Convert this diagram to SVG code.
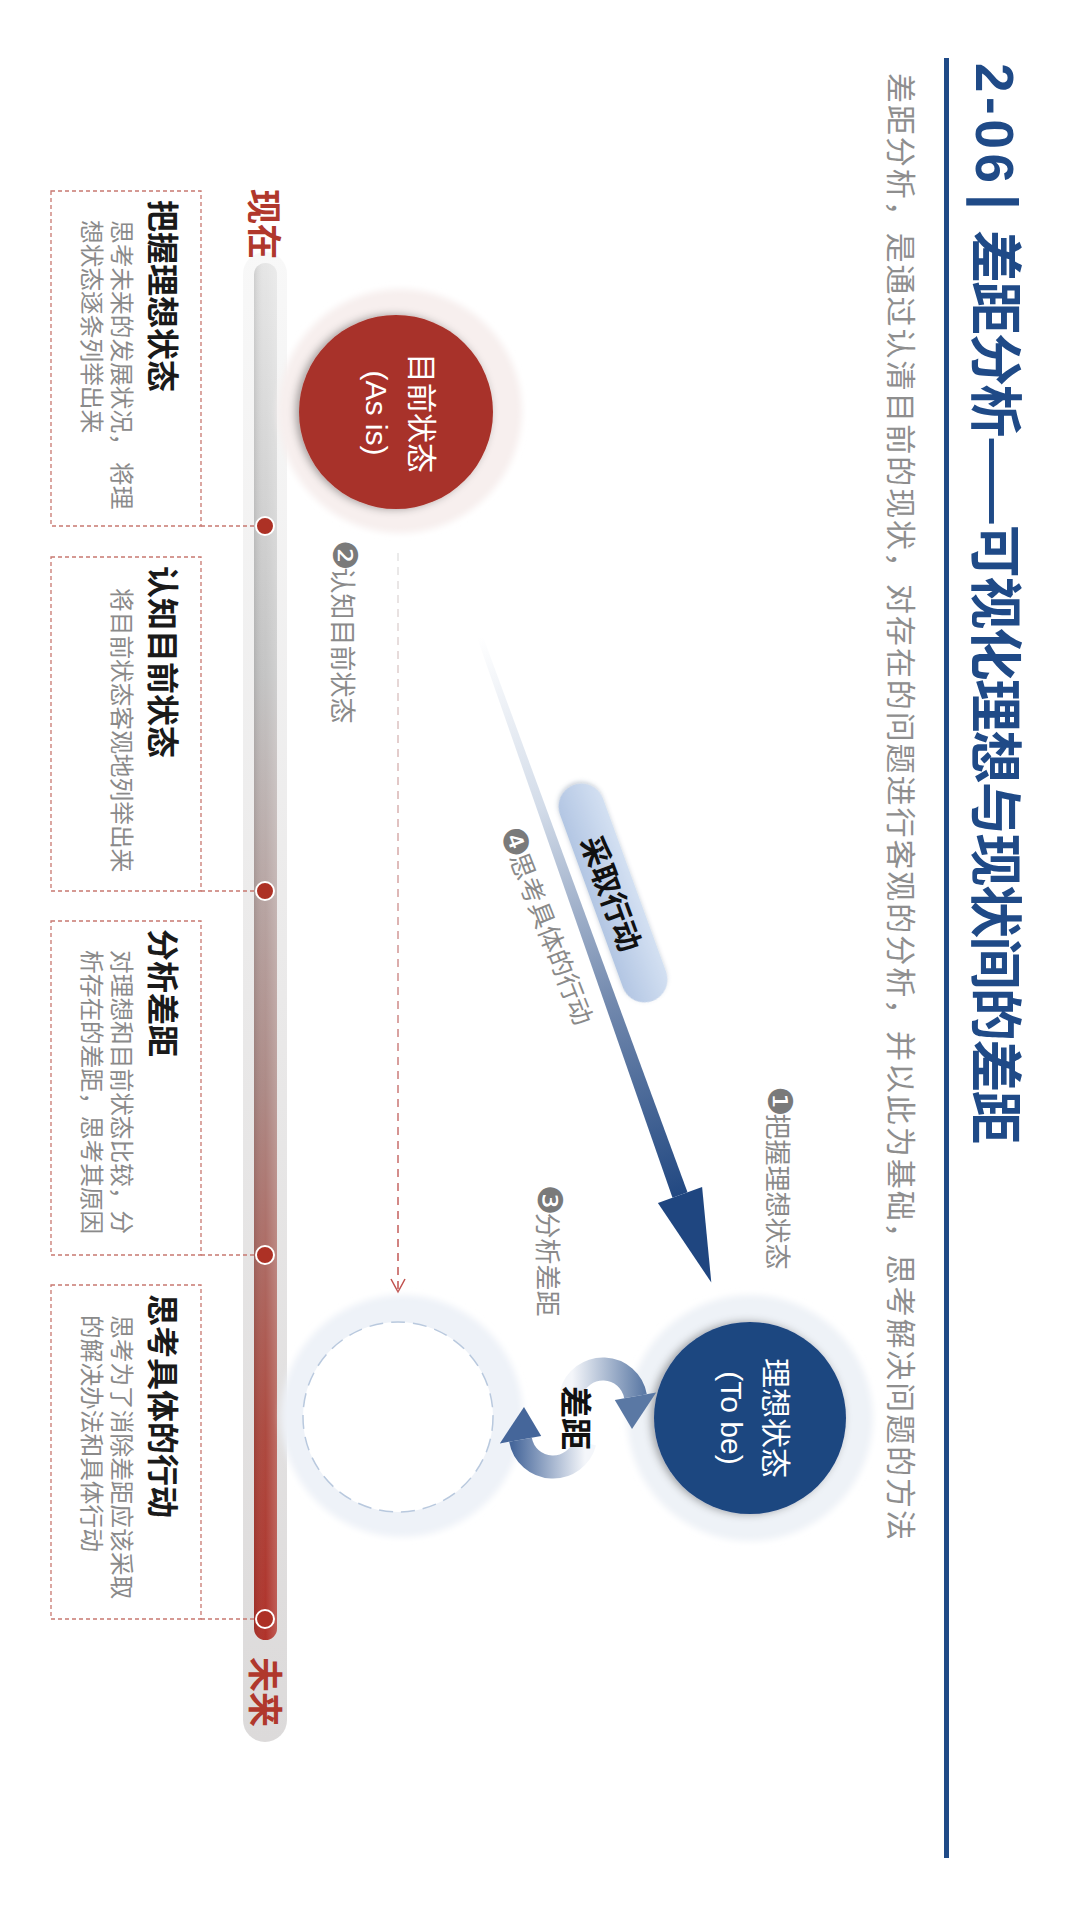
<svg xmlns="http://www.w3.org/2000/svg" width="1080" height="1916" viewBox="0 0 1080 1916">
<defs>
<style>
.cjk{font-family:"Noto Sans CJK SC","Liberation Sans",sans-serif;}
.lat{font-family:"Liberation Sans","Noto Sans CJK SC",sans-serif;}
.dg{font-family:"DejaVu Sans","Noto Sans CJK SC",sans-serif;fill:#7a7a7a;font-size:34px;}
.title{font-weight:bold;fill:#1f4a87;}
.sub{font-size:30px;fill:#8e8e8e;}
.bt{font-size:32px;font-weight:bold;fill:#1a1a1a;}
.bd{font-size:23.7px;fill:#8a8a8a;}
.lbl{font-size:26px;fill:#8a8a8a;}
.tl{font-size:35px;font-weight:bold;fill:#b0382c;}
.box{fill:#fff;stroke:#c87870;stroke-width:1.3;stroke-dasharray:4 3;}
.conn{stroke:#c87870;stroke-width:1.3;stroke-dasharray:4 3;fill:none;}
.dot{fill:#ad3125;stroke:#fff;stroke-width:2;}
.ctext{font-size:30px;fill:#fff;}
</style>
<linearGradient id="barG" x1="0" y1="263" x2="0" y2="1640" gradientUnits="userSpaceOnUse">
<stop offset="0" stop-color="#e6e6e6"/>
<stop offset="0.3" stop-color="#c4c4c4"/>
<stop offset="0.6" stop-color="#ad8a86"/>
<stop offset="0.85" stop-color="#ad4a40"/>
<stop offset="1" stop-color="#b0322a"/>
</linearGradient>
<linearGradient id="bandG" x1="0" y1="250" x2="0" y2="1742" gradientUnits="userSpaceOnUse">
<stop offset="0" stop-color="#f8f8f8"/>
<stop offset="1" stop-color="#dcdada"/>
</linearGradient>
<linearGradient id="barShade" x1="254" y1="0" x2="277" y2="0" gradientUnits="userSpaceOnUse">
<stop offset="0" stop-color="#000" stop-opacity="0.1"/>
<stop offset="0.5" stop-color="#fff" stop-opacity="0"/>
<stop offset="1" stop-color="#fff" stop-opacity="0.2"/>
</linearGradient>
<linearGradient id="dashG" x1="0" y1="553" x2="0" y2="1292" gradientUnits="userSpaceOnUse">
<stop offset="0" stop-color="#e4e4e4"/>
<stop offset="1" stop-color="#c0504d"/>
</linearGradient>
<linearGradient id="shaftG" x1="480" y1="637" x2="690" y2="1200" gradientUnits="userSpaceOnUse">
<stop offset="0" stop-color="#ffffff"/>
<stop offset="0.3" stop-color="#d3dce9"/>
<stop offset="0.65" stop-color="#7188ad"/>
<stop offset="1" stop-color="#1f4680"/>
</linearGradient>
<linearGradient id="pillG" x1="0" y1="-23" x2="0" y2="23" gradientUnits="userSpaceOnUse">
<stop offset="0" stop-color="#d3e0f2"/>
<stop offset="1" stop-color="#b3c6e3"/>
</linearGradient>
<linearGradient id="cycU" x1="572" y1="0" x2="645" y2="0" gradientUnits="userSpaceOnUse">
<stop offset="0" stop-color="#f4f6fa"/>
<stop offset="1" stop-color="#5a78a4"/>
</linearGradient>
<linearGradient id="cycL" x1="585" y1="0" x2="512" y2="0" gradientUnits="userSpaceOnUse">
<stop offset="0" stop-color="#f4f6fa"/>
<stop offset="1" stop-color="#45669a"/>
</linearGradient>
<filter id="soft" x="-20%" y="-20%" width="140%" height="140%">
<feGaussianBlur stdDeviation="3"/>
</filter>
<filter id="ds" x="-30%" y="-30%" width="160%" height="160%">
<feDropShadow dx="-3" dy="0" stdDeviation="4" flood-color="#000" flood-opacity="0.35"/>
</filter>
<filter id="ds2" x="-30%" y="-30%" width="160%" height="160%">
<feDropShadow dx="-2" dy="0" stdDeviation="2" flood-color="#4a5e80" flood-opacity="0.3"/>
</filter>
</defs>

<rect x="0" y="0" width="1080" height="1916" fill="#ffffff"/>

<g id="header">
<text class="lat title" font-size="53" transform="translate(976,63) rotate(90)" textLength="120" lengthAdjust="spacing">2-06</text>
<text class="lat title" font-size="56" transform="translate(979,194) rotate(90)">|</text>
<text class="cjk title" font-size="53" transform="translate(976,230) rotate(90)" textLength="914" lengthAdjust="spacing">差距分析——可视化理想与现状间的差距</text>
<rect x="944" y="58" width="5" height="1800" fill="#1f4a87"/>
<text class="cjk sub" transform="translate(890,73) rotate(90)" textLength="1467" lengthAdjust="spacing">差距分析，是通过认清目前的现状，对存在的问题进行客观的分析，并以此为基础，思考解决问题的方法</text>
</g>

<g id="timeline">
<rect x="243" y="252" width="44" height="1490" rx="22" fill="url(#bandG)"/>
<rect x="254" y="263" width="23" height="1377" rx="11.5" fill="url(#barG)"/>
<rect x="254" y="263" width="23" height="1377" rx="11.5" fill="url(#barShade)"/>
<text class="cjk tl" transform="translate(251,189) rotate(90)">现在</text>
<text class="cjk tl" transform="translate(252,1657) rotate(90)">未来</text>
</g>

<g id="connectors">
<line class="conn" x1="201" y1="526" x2="256" y2="526"/>
<line class="conn" x1="201" y1="891" x2="256" y2="891"/>
<line class="conn" x1="201" y1="1255" x2="256" y2="1255"/>
<line class="conn" x1="201" y1="1619" x2="256" y2="1619"/>
<line x1="398" y1="553" x2="398" y2="1290" stroke="url(#dashG)" stroke-width="1.5" stroke-dasharray="8 6"/>
<polyline points="391,1279 398,1292 405,1279" fill="none" stroke="#c0504d" stroke-width="1.5"/>
<polygon points="477.2,638 482.8,636 687.5,1192.3 672.5,1197.7" fill="url(#shaftG)"/>
<polygon points="657.9,1202.9 702.1,1187.1 711.3,1282.5" fill="#1f4680"/>
</g>

<g id="tobe">
<circle cx="750" cy="1418" r="123" fill="#eef2f7" filter="url(#soft)"/>
<circle cx="750" cy="1418" r="96" fill="#1f4680" filter="url(#ds)"/>
<text class="cjk ctext" text-anchor="middle" transform="translate(765,1418) rotate(90)">理想状态</text>
<text class="lat ctext" text-anchor="middle" transform="translate(721,1418) rotate(90)">(To be)</text>
</g>

<g id="future">
<circle cx="402" cy="1416" r="121" fill="#eef2f8" filter="url(#soft)"/>
<circle cx="398" cy="1417" r="95" fill="#ffffff" stroke="#b9c9de" stroke-width="1.5" stroke-dasharray="14 8"/>
</g>

<g id="gap-cycle">
<path d="M571.1,1393.5 A33,33 0 0 1 635.5,1396.3" fill="none" stroke="url(#cycU)" stroke-width="23"/>
<polygon points="614.8,1399.9 656.2,1392.6 632,1429" fill="#5a78a4"/>
<path d="M584.9,1442.5 A33,33 0 0 1 520.5,1439.7" fill="none" stroke="url(#cycL)" stroke-width="23"/>
<polygon points="541.2,1436.1 499.8,1443.4 524,1407" fill="#45669a"/>
<text class="cjk" font-size="32" font-weight="bold" fill="#111" text-anchor="middle" dominant-baseline="central" transform="translate(578,1418) rotate(90)">差距</text>
</g>

<g id="dots">
<circle class="dot" cx="265" cy="526" r="9"/>
<circle class="dot" cx="265" cy="891" r="9"/>
<circle class="dot" cx="265" cy="1255" r="9"/>
<circle class="dot" cx="265" cy="1619" r="9"/>
</g>

<g id="box1">
<rect class="box" x="51" y="191" width="150" height="335"/>
<text class="cjk bt" transform="translate(151,200) rotate(90)">把握理想状态</text>
<text class="cjk bd" transform="translate(113,220) rotate(90)">思考未来的发展状况，<tspan x="242">将理</tspan></text>
<text class="cjk bd" transform="translate(83,220) rotate(90)">想状态逐条列举出来</text>
</g>

<g id="box2">
<rect class="box" x="51" y="557" width="150" height="334"/>
<text class="cjk bt" transform="translate(151,566) rotate(90)">认知目前状态</text>
<text class="cjk bd" transform="translate(113,588) rotate(90)">将目前状态客观地列举出来</text>
</g>

<g id="box3">
<rect class="box" x="51" y="921" width="150" height="334"/>
<text class="cjk bt" transform="translate(151,929) rotate(90)">分析差距</text>
<text class="cjk bd" transform="translate(113,950) rotate(90)">对理想和目前状态比较，分</text>
<text class="cjk bd" transform="translate(83,950) rotate(90)">析存在的差距，思考其原因</text>
</g>

<g id="box4">
<rect class="box" x="51" y="1285" width="150" height="334"/>
<text class="cjk bt" transform="translate(151,1294) rotate(90)">思考具体的行动</text>
<text class="cjk bd" transform="translate(113,1315) rotate(90)">思考为了消除差距应该采取</text>
<text class="cjk bd" transform="translate(83,1315) rotate(90)">的解决办法和具体行动</text>
</g>

<g id="asis">
<circle cx="400" cy="411" r="122" fill="#f7efee" filter="url(#soft)"/>
<circle cx="396" cy="412" r="97" fill="#a8322a" filter="url(#ds)"/>
<text class="cjk ctext" text-anchor="middle" transform="translate(410.5,413) rotate(90)">目前状态</text>
<text class="lat ctext" text-anchor="middle" transform="translate(366,413) rotate(90)">(As is)</text>
</g>

<g id="action-pill">
<rect x="-115" y="-23" width="230" height="46" rx="23" fill="url(#pillG)" filter="url(#ds2)" transform="translate(613,893) rotate(70)"/>
<text class="cjk" font-size="30" font-weight="bold" fill="#111" text-anchor="middle" dominant-baseline="central" transform="translate(613,893) rotate(70)">采取行动</text>
</g>

<g id="labels">
<text class="cjk lbl" transform="translate(333,540) rotate(90)"><tspan class="dg">❷</tspan><tspan dx="-3">认知目前状态</tspan></text>
<text class="cjk lbl" transform="translate(768,1086) rotate(90)"><tspan class="dg">❶</tspan><tspan dx="-3">把握理想状态</tspan></text>
<text class="cjk lbl" transform="translate(538,1185) rotate(90)"><tspan class="dg">❸</tspan><tspan dx="-3">分析差距</tspan></text>
<text class="cjk lbl" transform="translate(499,832) rotate(68.5)"><tspan class="dg">❹</tspan><tspan dx="-3">思考具体的行动</tspan></text>
</g>
</svg>
